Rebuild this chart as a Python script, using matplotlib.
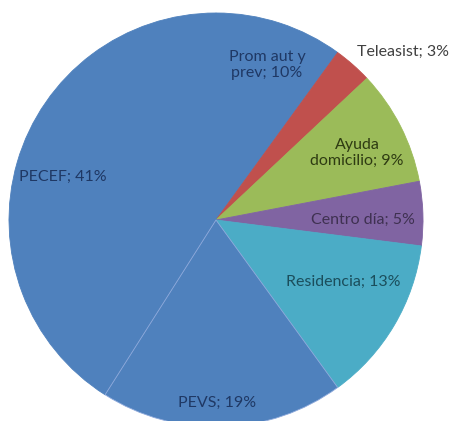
import matplotlib
matplotlib.use("Agg")
import matplotlib.pyplot as plt

categories = ["Prom aut y\nprev", "Teleasist", "Ayuda\ndomicilio", "Centro día",
              "Residencia", "PEVS", "PECEF"]
values = [10, 3, 9, 5, 13, 19, 41]
colors = ["#4F81BD", "#C0504D", "#9BBB59", "#8064A2", "#4BACC6", "#4F81BD", "#4F81BD"]
text_colors = ["#1F3864", "#404040", "#2E3B12", "#3F3151", "#1B4E5C", "#1F3864", "#1F3864"]
# label positions in pixel coordinates (x from left, y from top)
label_pos = [(267, 65), (403, 52), (357, 153), (363, 220), (343, 282), (217, 403), (63, 177)]

W, H = 451, 421
fig = plt.figure(figsize=(W / 100, H / 100), dpi=100)
ax = fig.add_axes([0, 0, 1, 1])

cx, cy, r = 216, H - 220, 207
wedges, _ = ax.pie(values, colors=colors, startangle=90, counterclock=False,
                   center=(cx, cy), radius=r, frame=True,
                   wedgeprops=dict(linewidth=0.6))
for w, c in zip(wedges, colors):
    w.set_edgecolor(c)
# the PEVS slice shows a faint light seam against PECEF
wedges[5].set_edgecolor("#8FAADC")
wedges[5].set_zorder(5)

ax.set_xlim(0, W)
ax.set_ylim(0, H)
ax.set_aspect("equal")
ax.axis("off")

for cat, v, tc, (px, py) in zip(categories, values, text_colors, label_pos):
    ax.text(px, H - py, f"{cat}; {v}%", ha="center", va="center", color=tc,
            fontsize=11.5, family=["Lato", "DejaVu Sans"], linespacing=1.2,
            zorder=10)

fig.savefig("out.png", dpi=100)
